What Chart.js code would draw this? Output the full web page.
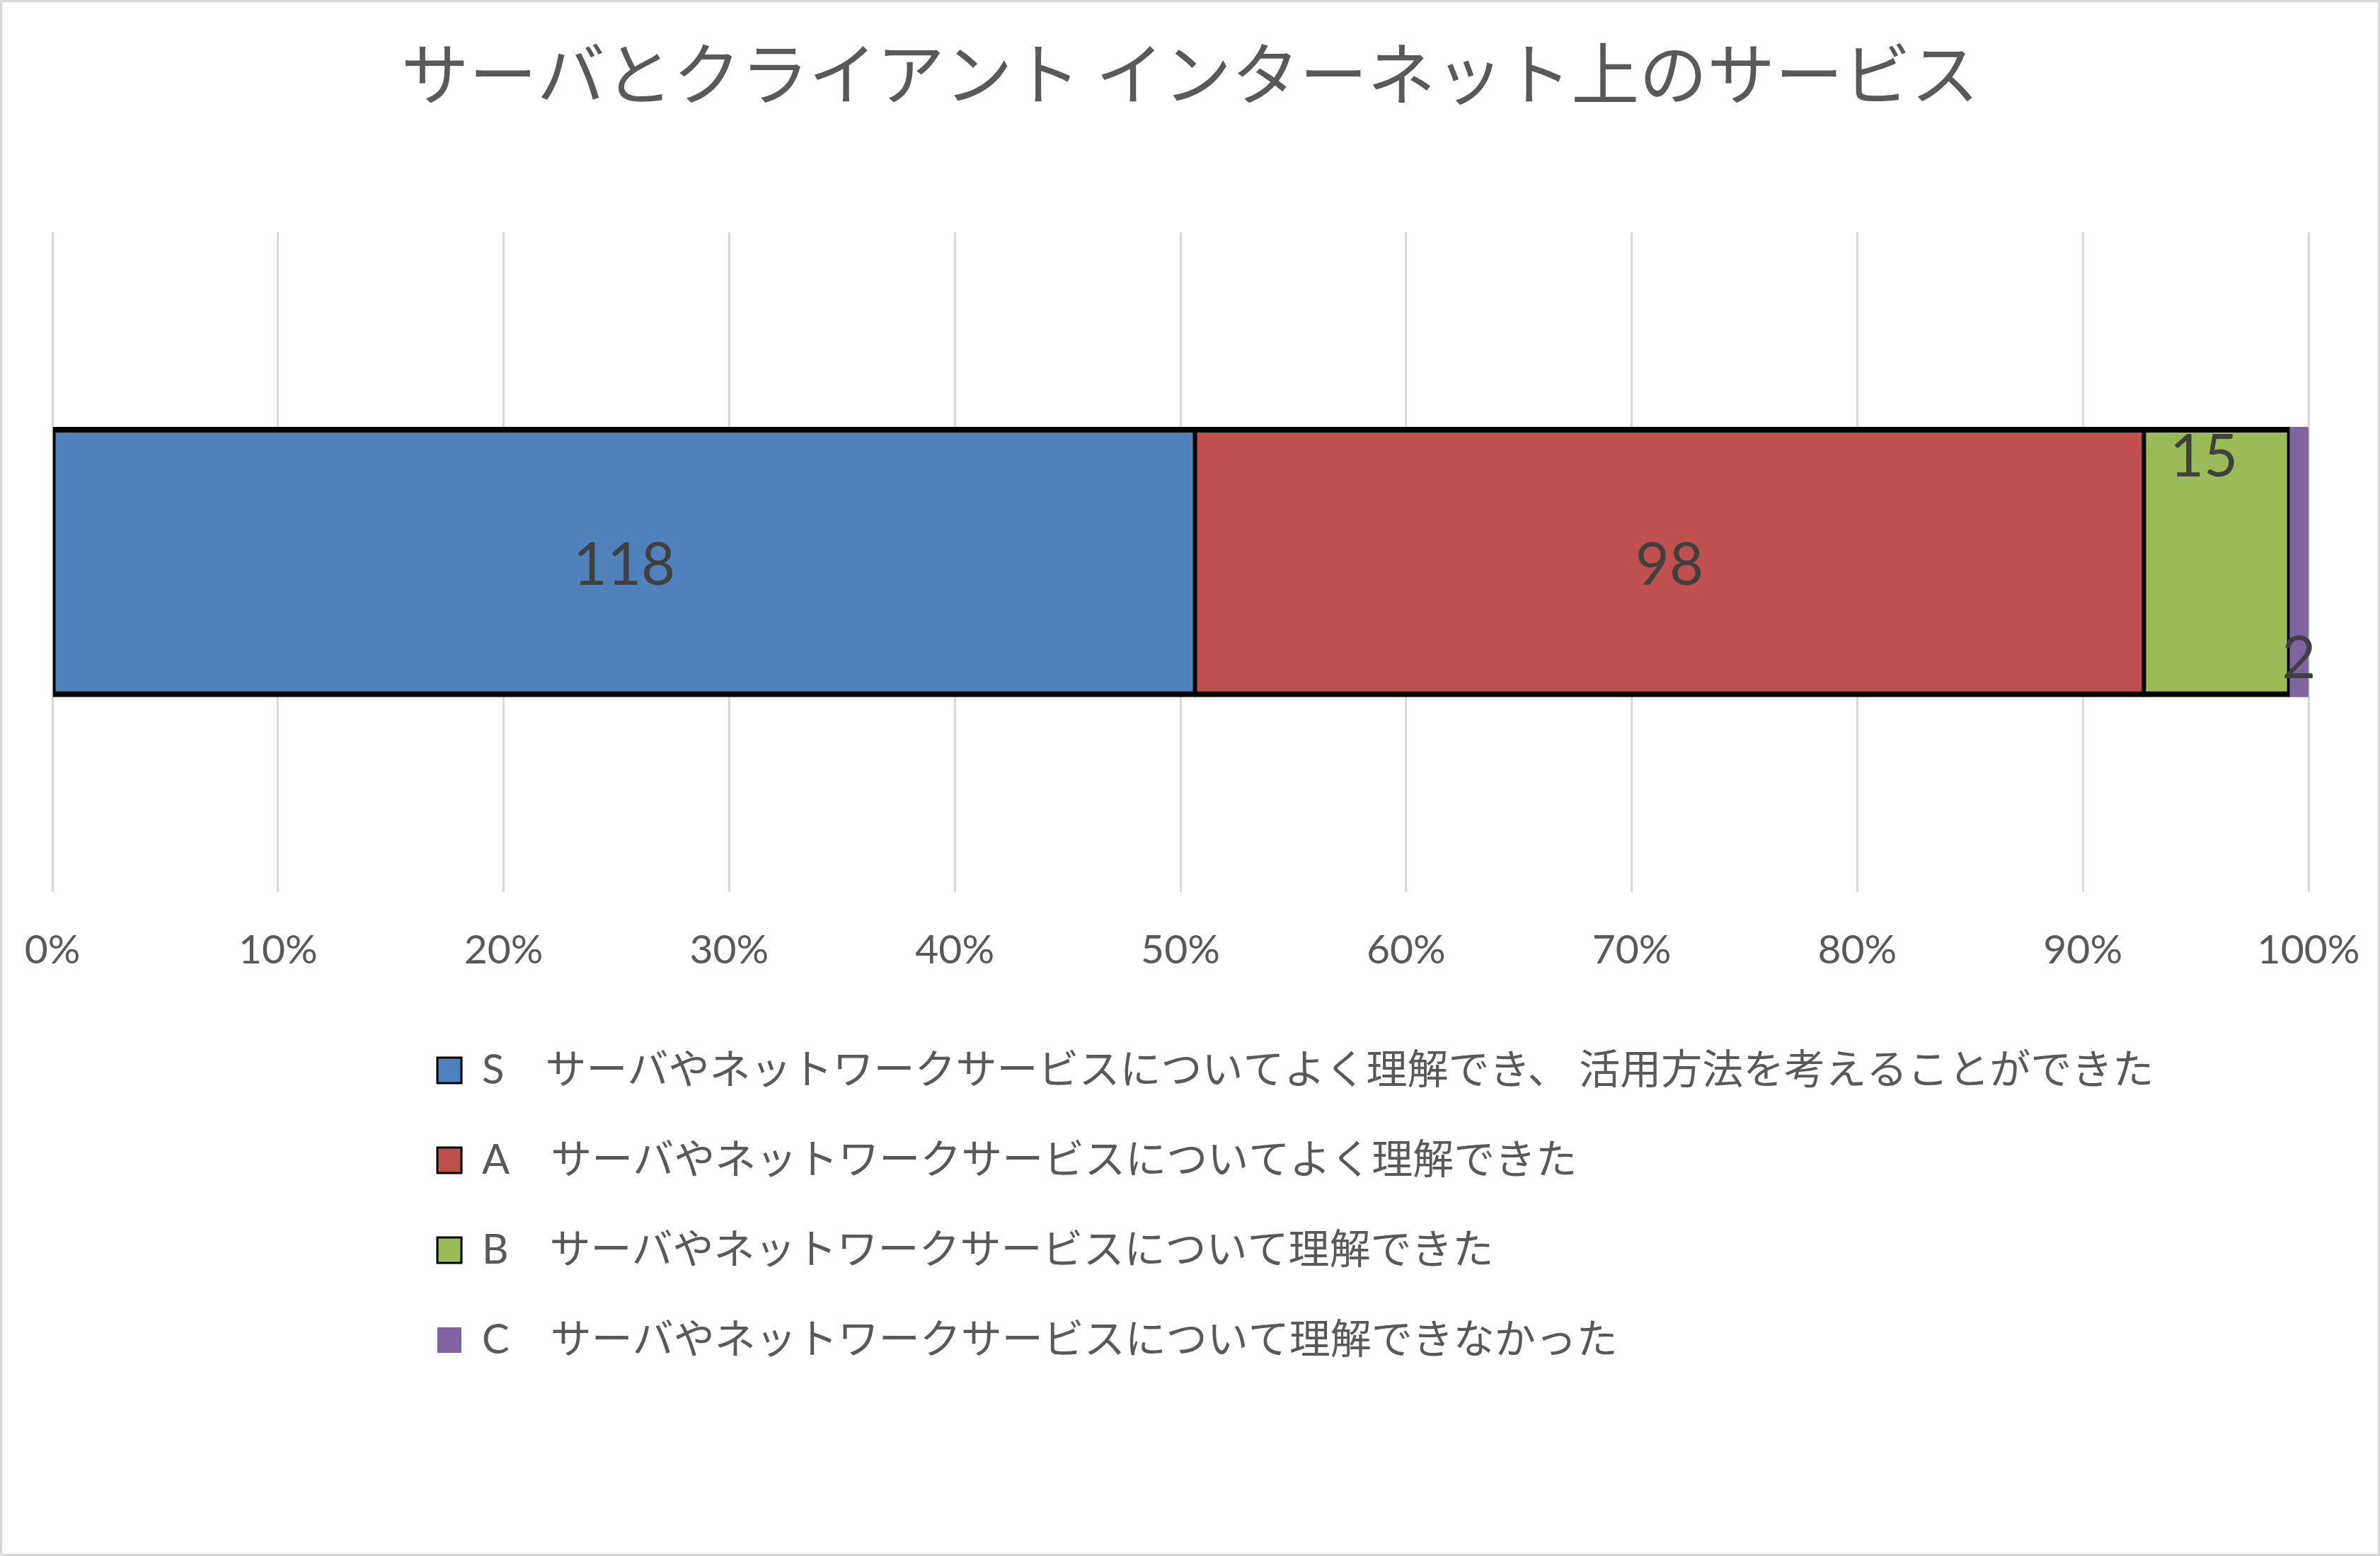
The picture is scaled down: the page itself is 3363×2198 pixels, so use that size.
<!DOCTYPE html>
<html lang="ja">
<head>
<meta charset="utf-8">
<title>サーバとクライアント インターネット上のサービス</title>
<script src="https://cdn.jsdelivr.net/npm/chart.js@4.4.1/dist/chart.umd.min.js"></script>
<style>
html, body { margin: 0; padding: 0; background: #ffffff; }
#wrap { position: relative; width: 3363px; height: 2198px; background: #ffffff; }
#frame { position: absolute; left: 0; top: 0; width: 3363px; height: 2198px; box-sizing: border-box; border: 3px solid #d9d9d9; pointer-events: none; }
canvas { display: block; }
</style>
</head>
<body>
<div id="wrap"><canvas id="chart"></canvas><div id="frame"></div></div>
<script>
// ---------------- data ----------------
const TITLE = 'サーバとクライアント インターネット上のサービス';
const CATEGORIES = [''];
const SERIES_LABELS = [
  'S　サーバやネットワークサービスについてよく理解でき、 活用方法を考えることができた',
  'A　サーバやネットワークサービスについてよく理解できた',
  'B　サーバやネットワークサービスについて理解できた',
  'C　サーバやネットワークサービスについて理解できなかった'
];
const S_COUNTS = [118];
const A_COUNTS = [98];
const B_COUNTS = [15];
const C_COUNTS = [2];
const X_TICK_LABELS = ['0%', '10%', '20%', '30%', '40%', '50%', '60%', '70%', '80%', '90%', '100%'];

// ---------------- styles ----------------
const SERIES_COLORS = ['#4F81BD', '#C0504D', '#9BBB59', '#8064A2'];
const SERIES_BORDER = [
  {top: 8, bottom: 8, left: 4, right: 4},
  {top: 8, bottom: 8, left: 4, right: 4},
  {top: 8, bottom: 8, left: 4, right: 4},
  0
];
const LEGEND_LINE = [3, 3, 3, 0];
const LATIN = "Lato, 'Noto Sans CJK JP', sans-serif";
const CJK = "'Noto Sans CJK JP', sans-serif";
const LEGEND_FONT_SIZE = 58;
const LEGEND_PAD = 69;
const LEGEND_POS = {boxLeft: 618, firstRowCenter: 1512, wrapWidth: 2600};
const LABEL_FONT = {size: 83, family: LATIN, color: '#404040', capRatio: 0.7165};
const LABEL_PLACEMENT = [
  {anchor: 'center', dx: 0, dy: 2},
  {anchor: 'center', dx: 0, dy: 2},
  {anchor: 'top', dx: -18, dy: 39},
  {anchor: 'bottom', dx: 0, dy: -56}
];

// ---------------- derived (100% stacked) ----------------
const COUNT_SERIES = [S_COUNTS, A_COUNTS, B_COUNTS, C_COUNTS];
const TOTALS = CATEGORIES.map((_, j) => COUNT_SERIES.reduce((s, arr) => s + arr[j], 0));
const PERCENT_SERIES = COUNT_SERIES.map(arr => arr.map((v, j) => v / TOTALS[j] * 100));

// ---------------- plugins ----------------
const barLabels = {
  id: 'barLabels',
  afterDatasetsDraw(chart) {
    const ctx = chart.ctx;
    ctx.save();
    ctx.font = `400 ${LABEL_FONT.size}px ${LABEL_FONT.family}`;
    ctx.fillStyle = LABEL_FONT.color;
    ctx.textAlign = 'center';
    ctx.textBaseline = 'alphabetic';
    const cap = LABEL_FONT.size * LABEL_FONT.capRatio;
    chart.data.datasets.forEach((ds, i) => {
      const meta = chart.getDatasetMeta(i);
      if (meta.hidden) return;
      const place = LABEL_PLACEMENT[i];
      meta.data.forEach((el, j) => {
        const p = el.getProps(['x', 'y', 'base', 'height'], true);
        const cx = (p.x + p.base) / 2 + place.dx;
        let cy;
        if (place.anchor === 'top') cy = p.y - p.height / 2 + place.dy;
        else if (place.anchor === 'bottom') cy = p.y + p.height / 2 + place.dy;
        else cy = p.y + place.dy;
        ctx.fillText(String(COUNT_SERIES[i][j]), cx, cy + cap / 2);
      });
    });
    ctx.restore();
  }
};

const legendLayout = {
  id: 'legendLayout',
  beforeLayout(chart) {
    const lg = chart.legend;
    if (lg && !lg._wrapPatched) {
      const origFit = lg.fit;
      lg.fit = function () {
        const full = this.maxWidth;
        this.maxWidth = Math.min(full, LEGEND_POS.wrapWidth);
        origFit.call(this);
        this.maxWidth = full;
      };
      lg._wrapPatched = true;
    }
  },
  afterLayout(chart) {
    const lg = chart.legend;
    if (lg) {
      const w = lg.right - lg.left, h = lg.bottom - lg.top;
      lg.left = LEGEND_POS.boxLeft - LEGEND_PAD;
      lg.right = lg.left + w;
      lg.top = LEGEND_POS.firstRowCenter - LEGEND_PAD - LEGEND_FONT_SIZE / 2;
      lg.bottom = lg.top + h;
    }
    const tb = chart.titleBlock;
    if (tb) {
      const w = tb.right - tb.left;
      const c = chart.width / 2;
      tb.left = c - w / 2;
      tb.right = c + w / 2;
    }
  }
};

function draw() {
  const datasets = PERCENT_SERIES.map((vals, i) => ({
    label: SERIES_LABELS[i],
    data: vals,
    backgroundColor: SERIES_COLORS[i],
    borderColor: '#000000',
    borderWidth: SERIES_BORDER[i],
    borderSkipped: false,
    inflateAmount: 1,
    barPercentage: 1,
    categoryPercentage: 0.4077
  }));

  new Chart(document.getElementById('chart'), {
    type: 'bar',
    data: { labels: CATEGORIES, datasets },
    options: {
      indexAxis: 'y',
      responsive: true,
      maintainAspectRatio: false,
      animation: false,
      layout: { padding: { left: 74, right: 101, top: 46, bottom: 255 } },
      scales: {
        x: {
          stacked: true,
          min: 0,
          max: 100,
          ticks: {
            stepSize: 10,
            padding: 0,
            color: '#595959',
            font: { family: LATIN, size: 57, lineHeight: 2.9 },
            maxRotation: 0,
            autoSkip: false,
            callback: (v, idx) => X_TICK_LABELS[idx]
          },
          grid: { color: '#d9d9d9', lineWidth: 3, drawTicks: false },
          border: { display: false }
        },
        y: { stacked: true, display: false }
      },
      plugins: {
        title: {
          display: true,
          text: TITLE,
          color: '#595959',
          font: { family: CJK, size: 96, weight: '400' },
          padding: { top: 0, bottom: 167 }
        },
        legend: {
          display: true,
          position: 'bottom',
          align: 'start',
          labels: {
            color: '#595959',
            font: { family: LATIN, size: LEGEND_FONT_SIZE },
            boxWidth: 34,
            boxHeight: 36,
            padding: LEGEND_PAD,
            generateLabels(chart) {
              const items = Chart.defaults.plugins.legend.labels.generateLabels(chart);
              items.forEach(it => {
                it.lineWidth = LEGEND_LINE[it.datasetIndex];
                it.strokeStyle = '#000000';
              });
              return items;
            }
          }
        },
        tooltip: { enabled: false }
      }
    },
    plugins: [barLabels, legendLayout]
  });
}

const fontLoads = [
  `400 58px Lato`,
  `400 96px "Noto Sans CJK JP"`,
  `400 58px "Noto Sans CJK JP"`
].map(f => document.fonts.load(f, 'Sサ理0%'));
Promise.all(fontLoads).catch(() => {}).then(draw);
</script>
</body>
</html>
